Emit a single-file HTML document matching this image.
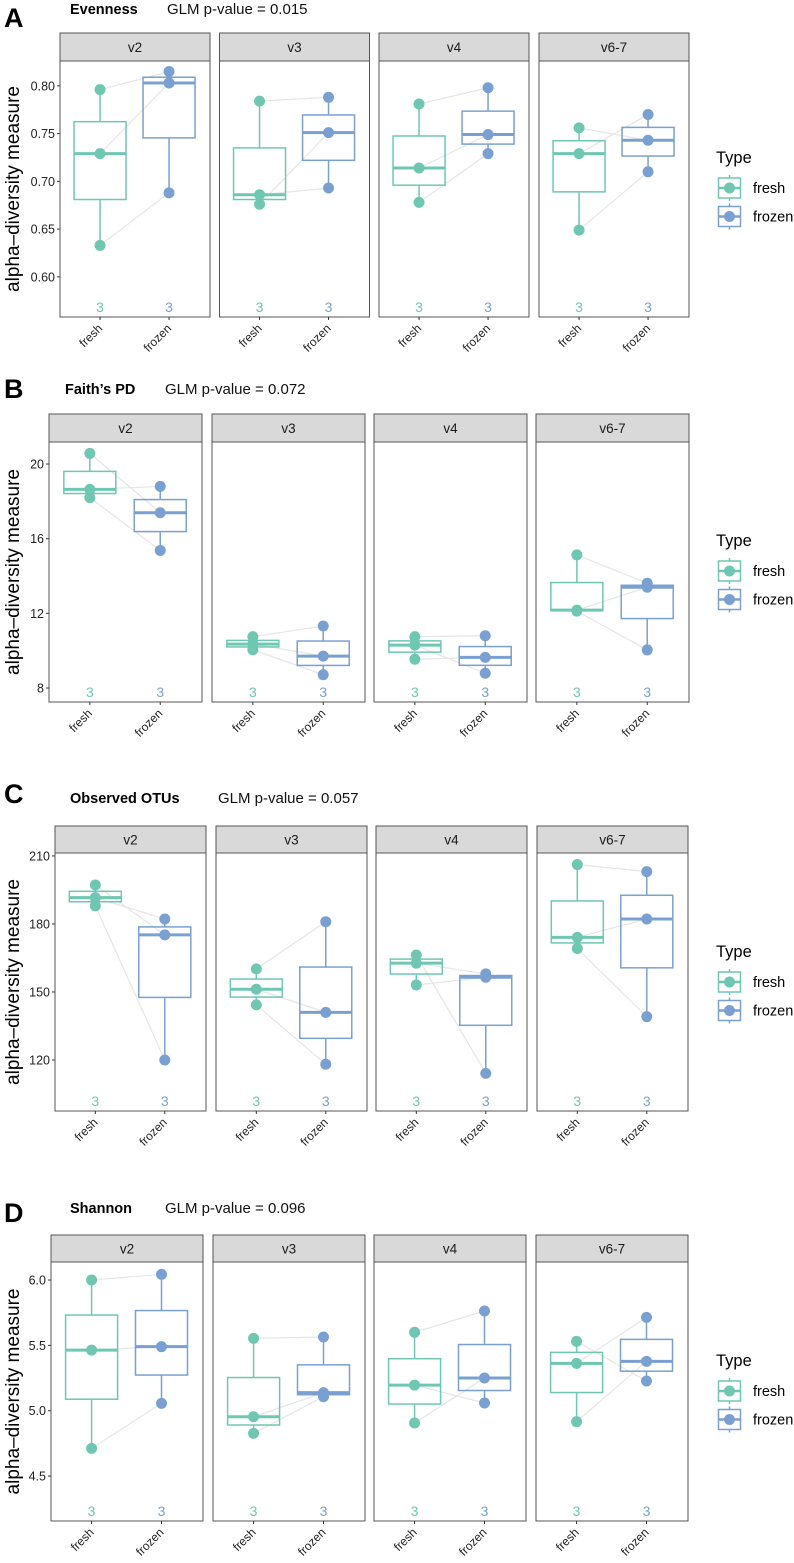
<!DOCTYPE html>
<html><head><meta charset="utf-8">
<style>
html,body{margin:0;padding:0;background:#fff;}
svg{display:block;font-family:"Liberation Sans",Arial,sans-serif;}
</style></head>
<body>
<svg id="fig" width="794" height="1563" viewBox="0 0 794 1563" xmlns="http://www.w3.org/2000/svg"></svg>
<script>
// ---- data ----
const regions = ["v2","v3","v4","v6-7"];
const groups = ["fresh","frozen"];
const metricNames = ["Evenness","Faith\u2019s PD","Observed OTUs","Shannon"];
const pValues = ["0.015","0.072","0.057","0.096"];
const panelLetters = ["A","B","C","D"];
const sampleCounts = [3,3];

const evenFresh  = [[0.796,0.729,0.633],[0.784,0.676,0.686],[0.781,0.714,0.678],[0.756,0.729,0.649]];
const evenFrozen = [[0.815,0.803,0.688],[0.788,0.751,0.693],[0.798,0.749,0.729],[0.743,0.770,0.710]];
const faithFresh  = [[20.57,18.64,18.20],[10.75,10.35,10.05],[10.75,10.30,9.54],[15.13,12.17,12.12]];
const faithFrozen = [[17.39,18.80,15.37],[11.32,9.71,8.71],[10.80,8.79,9.64],[13.61,13.40,10.04]];
const otuFresh  = [[197.2,191.6,188.0],[160.2,151.2,144.3],[166.3,162.7,153.1],[206.2,174.1,169.2]];
const otuFrozen = [[175.2,182.2,120.0],[181.0,141.0,118.1],[114.1,158.0,156.5],[203.1,182.2,139.1]];
const shanFresh  = [[6.00,5.464,4.712],[5.554,4.954,4.827],[5.60,5.196,4.906],[5.531,5.362,4.916]];
const shanFrozen = [[6.043,5.49,5.056],[5.564,5.138,5.107],[5.763,5.059,5.25],[5.227,5.714,5.378]];

const evenTicks = [0.60,0.65,0.70,0.75,0.80];
const faithTicks = [8,12,16,20];
const otuTicks = [120,150,180,210];
const shanTicks = [4.5,5.0,5.5,6.0];
const evenTickLabels = ["0.60","0.65","0.70","0.75","0.80"];
const faithTickLabels = ["8","12","16","20"];
const otuTickLabels = ["120","150","180","210"];
const shanTickLabels = ["4.5","5.0","5.5","6.0"];

// ---- layout (not data) ----
const layouts = [
  {fresh:evenFresh, frozen:evenFrozen, ticks:evenTicks, tl:evenTickLabels, dmin:0.558, dmax:0.826,
   px:[60,219.5,379,539], pw:150, stripTop:33, plotTop:61, plotBot:317, titleY:14, letterY:27, titleX:70, pX:167, legY:157},
  {fresh:faithFresh, frozen:faithFrozen, ticks:faithTicks, tl:faithTickLabels, dmin:7.25, dmax:21.18,
   px:[49,212,374,536], pw:153, stripTop:414, plotTop:442, plotBot:702, titleY:394, letterY:398, titleX:65, pX:165, legY:540},
  {fresh:otuFresh, frozen:otuFrozen, ticks:otuTicks, tl:otuTickLabels, dmin:97.5, dmax:211.3,
   px:[55,216,376,537], pw:151, stripTop:826, plotTop:853, plotBot:1111, titleY:803, letterY:803, titleX:70, pX:218, legY:951},
  {fresh:shanFresh, frozen:shanFrozen, ticks:shanTicks, tl:shanTickLabels, dmin:4.156, dmax:6.138,
   px:[51,213,374,536], pw:152, stripTop:1235, plotTop:1262, plotBot:1521, titleY:1213, letterY:1222, titleX:70, pX:165, legY:1360}
];
const colors = {fresh:"#6fc7b2", frozen:"#7aa0d2"};
const NS = "http://www.w3.org/2000/svg";
const svg = document.getElementById("fig");
function mk(tag, attrs, parent, text){
  const e = document.createElementNS(NS, tag);
  for (const k in attrs) e.setAttribute(k, attrs[k]);
  if (text !== undefined) e.textContent = text;
  (parent || svg).appendChild(e);
  return e;
}
function q(arr){
  const s = arr.slice().sort((a,b)=>a-b);
  const n = s.length;
  function qq(p){ const h=(n-1)*p, lo=Math.floor(h), hi=Math.ceil(h); return s[lo]+(s[hi]-s[lo])*(h-lo); }
  return {min:s[0], q1:qq(0.25), med:qq(0.5), q3:qq(0.75), max:s[n-1]};
}

layouts.forEach((L, li) => {
  const g = mk("g", {});
  
  
  const yScale = v => L.plotBot - (v - L.dmin) / (L.dmax - L.dmin) * (L.plotBot - L.plotTop);
  // header
  const letter = mk("text", {x:4, y:L.letterY, "font-size":27, "font-weight":"bold", fill:"#000"}, g, panelLetters[li]);
  
  
  const title = mk("text", {x:L.titleX, y:L.titleY, "font-size":14.5, "font-weight":"bold", fill:"#000"}, g, metricNames[li]);
  
  
  const pv = mk("text", {x:L.pX, y:L.titleY, "font-size":15, fill:"#111"}, g, "GLM p-value = " + pValues[li]);
  
  
  // y title
  const midY = (L.plotTop + L.plotBot) / 2;
  const yt = mk("text", {x:0, y:0, transform:`translate(19,${midY}) rotate(-90)`, "text-anchor":"middle", "font-size":19, fill:"#000"}, g, "alpha\u2013diversity measure");
  
  
  // y ticks
  const x0 = L.px[0];
  L.ticks.forEach((t, ti) => {
    const y = yScale(t);
    const tk = mk("line", {x1:x0-3, x2:x0, y1:y, y2:y, stroke:"#333", "stroke-width":1}, g);
    
    
    const tl = mk("text", {x:x0-5, y:y+4.5, "text-anchor":"end", "font-size":12.5, fill:"#222"}, g, L.tl[ti]);
    
    
  });
  regions.forEach((reg, ri) => {
    const px = L.px[ri], pw = L.pw;
    const facet = mk("g", {}, g);
    
    
    const strip = mk("rect", {x:px, y:L.stripTop, width:pw, height:L.plotTop-L.stripTop, fill:"#d9d9d9", stroke:"#555", "stroke-width":1}, facet);
    
    
    const st = mk("text", {x:px+pw/2, y:(L.stripTop+L.plotTop)/2+5, "text-anchor":"middle", "font-size":13.5, fill:"#1a1a1a"}, facet, reg);
    
    
    const frame = mk("rect", {x:px, y:L.plotTop, width:pw, height:L.plotBot-L.plotTop, fill:"#fff", stroke:"#555", "stroke-width":1}, facet);
    
    
    const xs = [px + pw*0.267, px + pw*0.727];
    const sets = [L.fresh[ri], L.frozen[ri]];
    // pair lines
    for (let k = 0; k < sets[0].length; k++) {
      const ln = mk("line", {x1:xs[0], y1:yScale(sets[0][k]), x2:xs[1], y2:yScale(sets[1][k]), stroke:"#e6e6e6", "stroke-width":1.2}, facet);
      
      
    }
    groups.forEach((gr, gi) => {
      const c = colors[gr], x = xs[gi], s = q(sets[gi]), bw = 26;
      const wh = mk("line", {x1:x, x2:x, y1:yScale(s.max), y2:yScale(s.q3), stroke:c, "stroke-width":1.5}, facet);
      
      
      const wl = mk("line", {x1:x, x2:x, y1:yScale(s.q1), y2:yScale(s.min), stroke:c, "stroke-width":1.5}, facet);
      
      
      const bx = mk("rect", {x:x-bw, y:yScale(s.q3), width:bw*2, height:Math.max(0.5, yScale(s.q1)-yScale(s.q3)), fill:"none", stroke:c, "stroke-width":1.5}, facet);
      
      
      const md = mk("line", {x1:x-bw, x2:x+bw, y1:yScale(s.med), y2:yScale(s.med), stroke:c, "stroke-width":3}, facet);
      
      
      sets[gi].forEach(v => {
        const pt = mk("circle", {cx:x, cy:yScale(v), r:5.5, fill:c}, facet);
        
        
      });
      const n = mk("text", {x:x, y:L.plotBot-5, "text-anchor":"middle", "font-size":14, fill:c}, facet, String(sampleCounts[gi]));
      
      
      const xt = mk("line", {x1:x, x2:x, y1:L.plotBot, y2:L.plotBot+3, stroke:"#333", "stroke-width":1}, facet);
      
      
      const xl = mk("text", {x:0, y:0, transform:`translate(${x+3},${L.plotBot+12}) rotate(-45)`, "text-anchor":"end", "font-size":12, fill:"#222"}, facet, gr);
      
      
    });
  });
  // legend
  const lg = mk("g", {}, g);
  
  
  const lt = mk("text", {x:716, y:L.legY+6, "font-size":16.5, fill:"#000"}, lg, "Type");
  
  
  groups.forEach((gr, gi) => {
    const cy = L.legY + 31 + gi*28.5, c = colors[gr];
    const key = mk("g", {}, lg);
    
    
    mk("line", {x1:729.5, x2:729.5, y1:cy-13, y2:cy+13, stroke:c, "stroke-width":1.5}, key);
    mk("rect", {x:718.5, y:cy-10, width:22, height:20, fill:"#fff", stroke:c, "stroke-width":1.5}, key);
    mk("line", {x1:718.5, x2:740.5, y1:cy, y2:cy, stroke:c, "stroke-width":2.5}, key);
    mk("circle", {cx:729.5, cy:cy, r:5.5, fill:c}, key);
    const tx = mk("text", {x:753, y:cy+5, "font-size":14.5, fill:"#000"}, key, gr);
    
    
  });
});
</script>
</body></html>
